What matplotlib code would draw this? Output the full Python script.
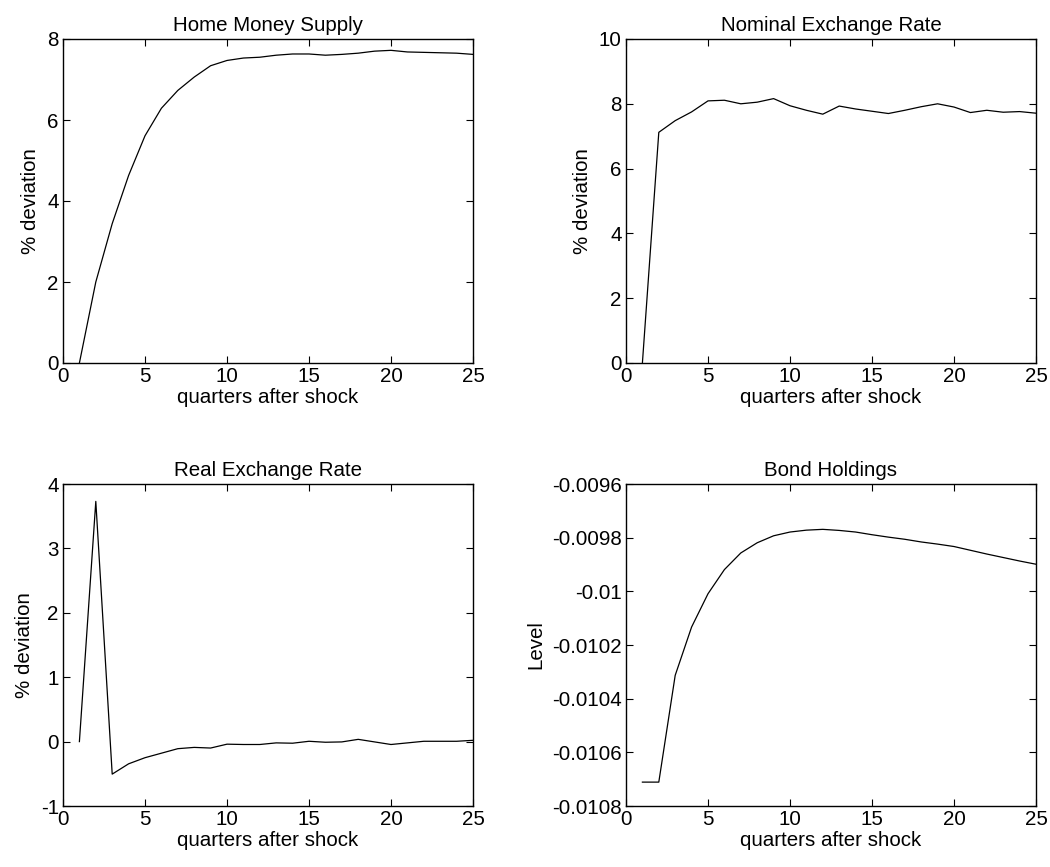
import matplotlib
matplotlib.use("Agg")
import matplotlib.pyplot as plt

plt.rcParams['font.family'] = ['Liberation Sans', 'DejaVu Sans']

quarters = list(range(1, 26))

home_money = [0.0, 2.0, 3.44, 4.63, 5.61, 6.29, 6.73, 7.06, 7.34, 7.47, 7.53, 7.55, 7.60,
              7.63, 7.63, 7.60, 7.62, 7.65, 7.70, 7.72, 7.68, 7.67, 7.66, 7.65, 7.62]

nominal_fx = [0.0, 7.12, 7.48, 7.75, 8.09, 8.11, 8.00, 8.05, 8.16, 7.94, 7.80, 7.68, 7.93,
              7.84, 7.77, 7.70, 7.80, 7.91, 8.00, 7.90, 7.73, 7.80, 7.74, 7.76, 7.71]

real_fx = [0.0, 3.73, -0.505, -0.345, -0.25, -0.18, -0.11, -0.09, -0.10, -0.04, -0.045,
           -0.045, -0.02, -0.025, 0.005, -0.01, -0.005, 0.035, -0.005, -0.045, -0.02,
           0.005, 0.005, 0.005, 0.02]

bonds = [-0.010711, -0.010711, -0.010313, -0.010133, -0.010009, -0.009919, -0.009857,
         -0.009819, -0.009793, -0.009779, -0.009772, -0.009769, -0.009773, -0.009779,
         -0.009789, -0.009798, -0.009806, -0.009816, -0.009824, -0.009833, -0.009847,
         -0.009861, -0.009874, -0.009887, -0.009899]

titles = ["Home Money Supply", "Nominal Exchange Rate", "Real Exchange Rate", "Bond Holdings"]
ylabels = ["% deviation", "% deviation", "% deviation", "Level"]
xlabel = "quarters after shock"
xticks = [0, 5, 10, 15, 20, 25]

yticks_list = [
    [0, 2, 4, 6, 8],
    [0, 2, 4, 6, 8, 10],
    [-1, 0, 1, 2, 3, 4],
    [-0.0108, -0.0106, -0.0104, -0.0102, -0.01, -0.0098, -0.0096],
]
ytick_labels_list = [
    ["0", "2", "4", "6", "8"],
    ["0", "2", "4", "6", "8", "10"],
    ["-1", "0", "1", "2", "3", "4"],
    ["-0.0108", "-0.0106", "-0.0104", "-0.0102", "-0.01", "-0.0098", "-0.0096"],
]
series = [home_money, nominal_fx, real_fx, bonds]

W, H = 1050, 867
fig = plt.figure(figsize=(W / 100, H / 100), dpi=100)

boxes = [
    (63, 39, 473, 363),
    (626, 39, 1036, 363),
    (63, 484, 473, 806),
    (626, 484, 1036, 806),
]

fs = 14.8
for i, (l, t, r, b) in enumerate(boxes):
    ax = fig.add_axes([l / W, 1 - b / H, (r - l) / W, (b - t) / H])
    ax.plot(quarters, series[i], color='black', linewidth=0.9)
    ax.set_xlim(0, 25)
    ax.set_ylim(yticks_list[i][0], yticks_list[i][-1])
    ax.set_xticks(xticks)
    ax.set_xticklabels([str(v) for v in xticks])
    ax.set_yticks(yticks_list[i])
    ax.set_yticklabels(ytick_labels_list[i])
    ax.tick_params(direction='in', top=True, right=True, length=5, width=0.8,
                   labelsize=fs, pad=3)
    for s in ax.spines.values():
        s.set_linewidth(1.0)
    ax.set_title(titles[i], fontsize=fs, pad=6)
    ax.set_xlabel(xlabel, fontsize=fs, labelpad=1)
    ax.set_ylabel(ylabels[i], fontsize=fs, labelpad=5)

fig.savefig("out.png", dpi=100, facecolor='white')
